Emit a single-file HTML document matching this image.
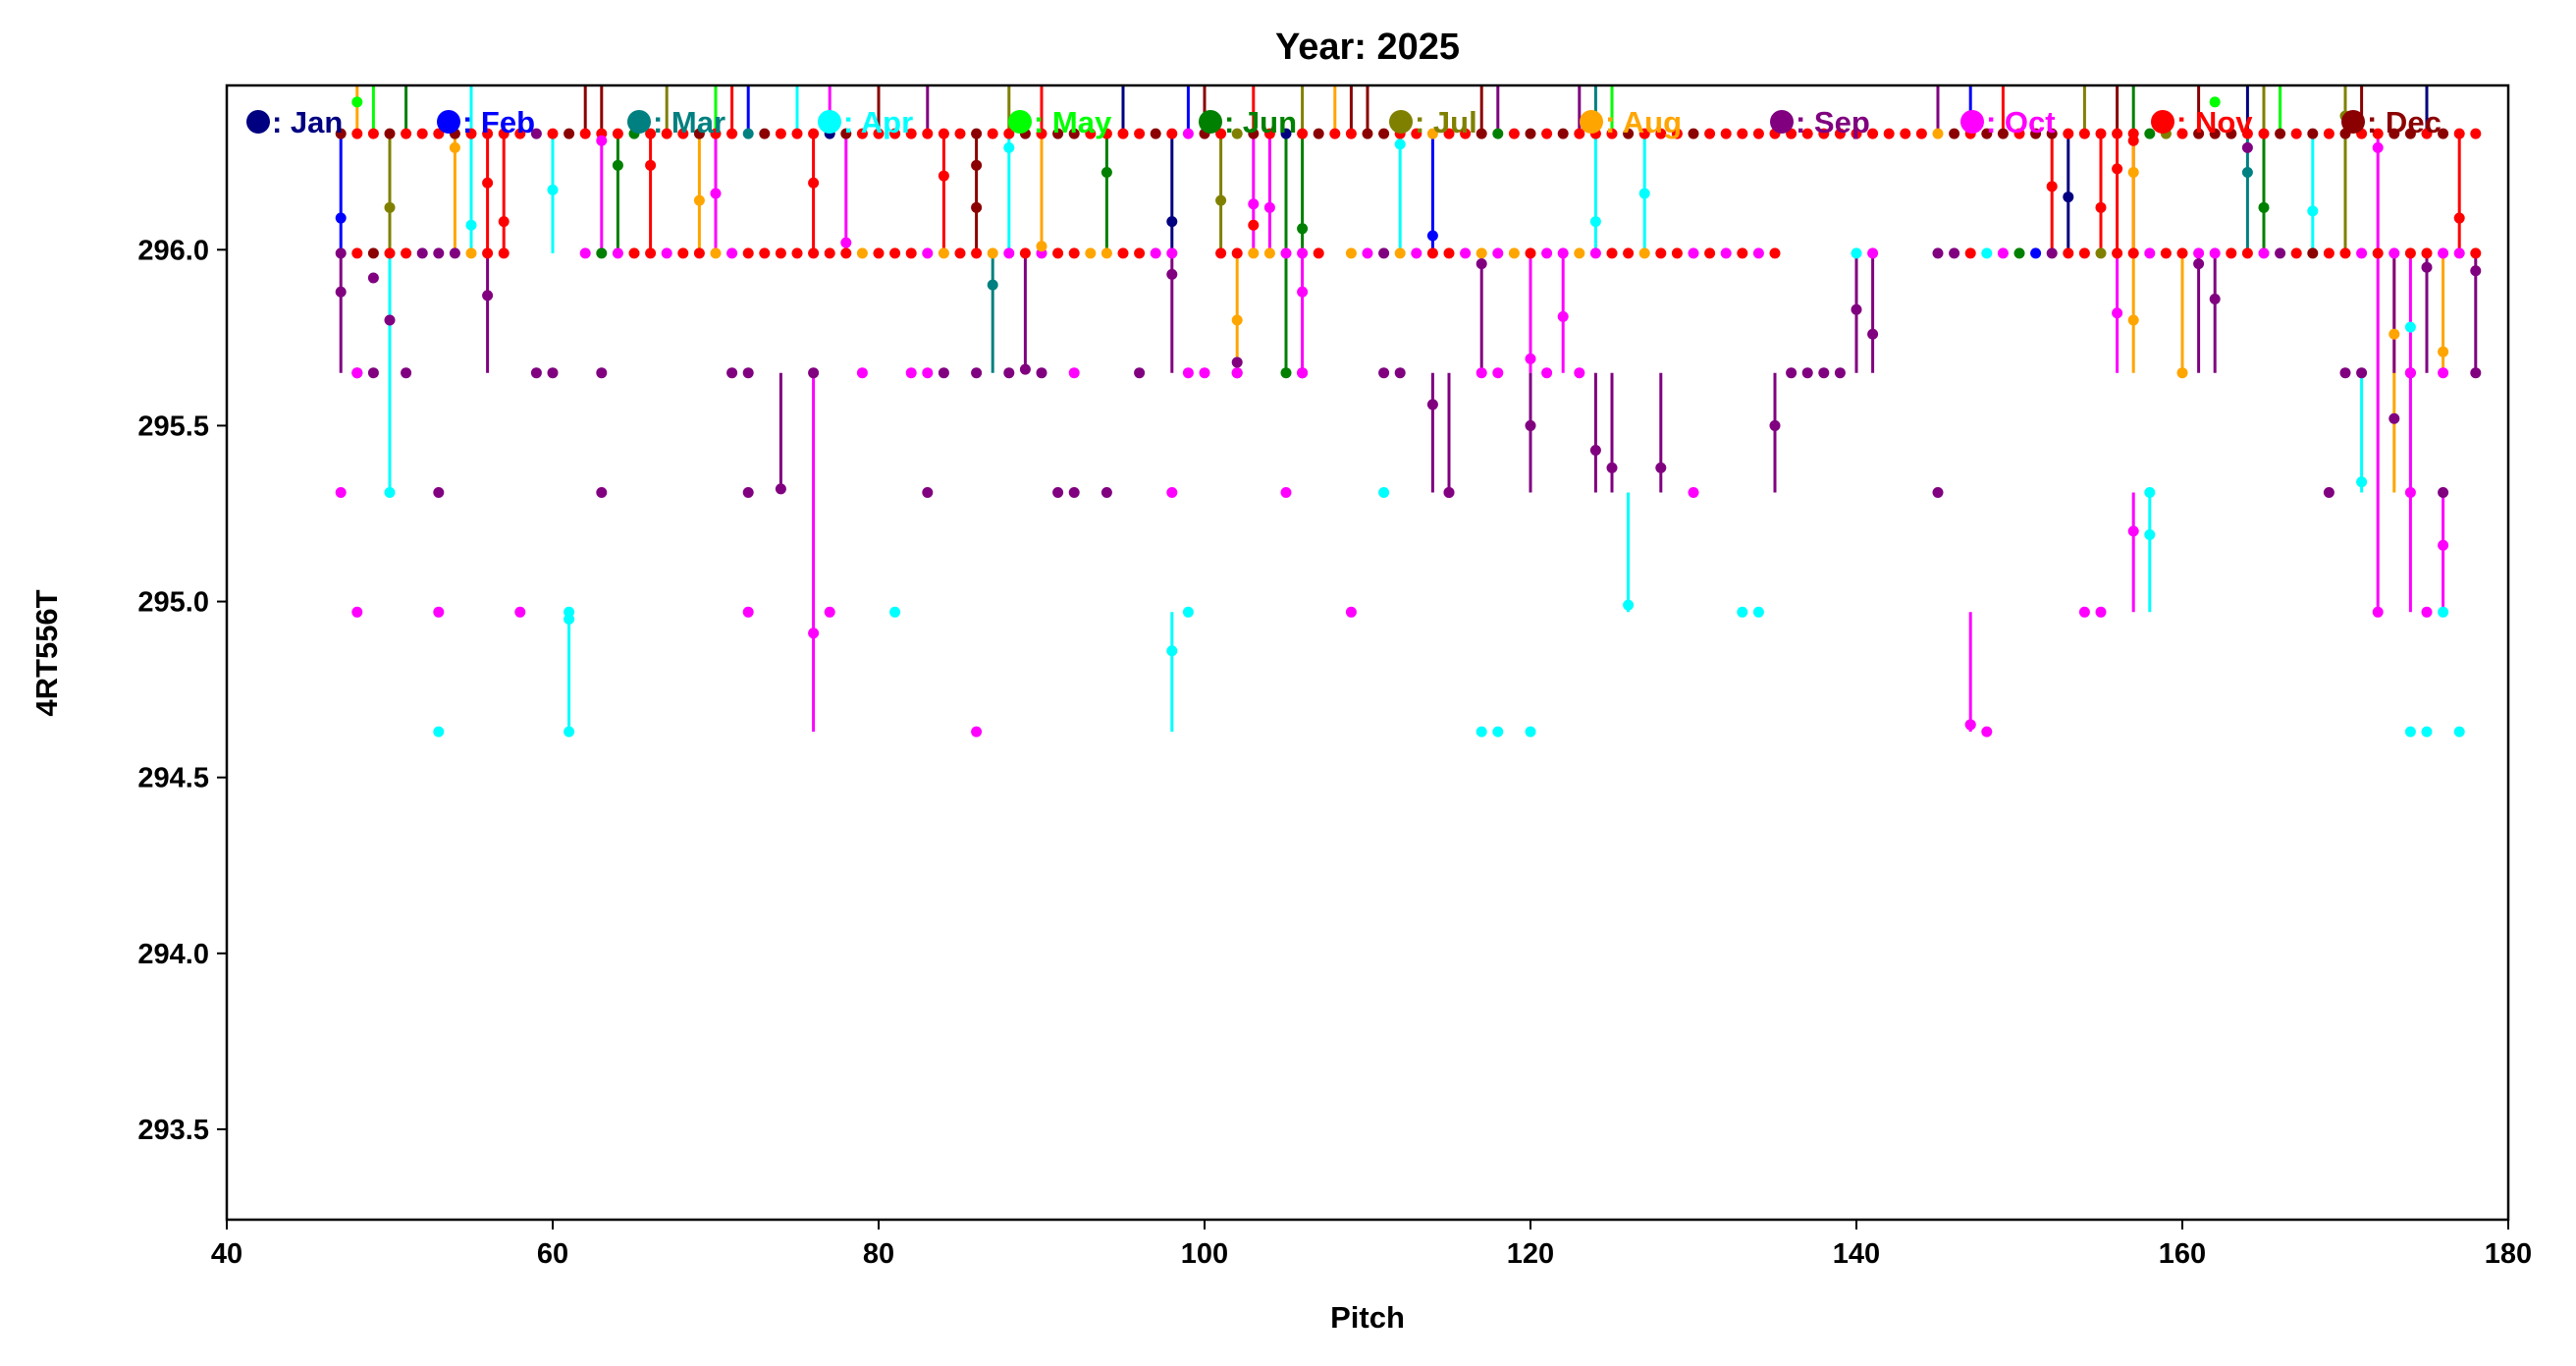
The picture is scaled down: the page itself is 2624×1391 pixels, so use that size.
<!DOCTYPE html>
<html><head><meta charset="utf-8"><style>
html,body{margin:0;padding:0;background:#fff;}
svg{display:block;font-family:"Liberation Sans","DejaVu Sans",sans-serif;font-weight:bold;}
</style></head><body>
<svg id="chart" width="2624" height="1391" viewBox="0 0 2624 1391" xmlns="http://www.w3.org/2000/svg">
<rect width="2624" height="1391" fill="#fff"/>
<text x="1393" y="60" text-anchor="middle" font-size="38">Year: 2025</text>
<text x="1393" y="1352" text-anchor="middle" font-size="31">Pitch</text>
<text transform="translate(58,665) rotate(-90)" text-anchor="middle" font-size="31">4RT556T</text>
<g id="plot"></g>
<g id="axes"></g>
<g id="legend"></g>
</svg>
<script>
const monthNames=["Jan","Feb","Mar","Apr","May","Jun","Jul","Aug","Sep","Oct","Nov","Dec"];
const monthColors=["#000080","#0000ff","#008080","#00ffff","#00ff00","#008000","#808000","#ffa500","#800080","#ff00ff","#ff0000","#8b0000"];
const xTicks=[40,60,80,100,120,140,160,180];
const yTicks=[293.5,294.0,294.5,295.0,295.5,296.0];
const yTickLabels=["293.5","294.0","294.5","295.0","295.5","296.0"];
// top row (296.33) month codes for pitch 47..178, '.' = none
const topRowStart=47;
const topRowEnd=178;
const topRow="lkklkkklkkkkiklkkkfkkklkkclkkkalkkkkkkklkklkllkkkklkjlkglkaklkkllkkhkklfklklkkklkkklkkkkkkkkkkkkkkhlkllkllkkkkkfgklllkklklklkkllklkkkklkl";
const topValue=296.33;
// mid row (295.99)
const midRowStart=47;
const midRowEnd=178;
const midRow="iklkkiiihkk....jfjkkjkkhjkkkkkkkhkkkjhkkhjkjkkhhkkjj..kkhhjjk.hjihjkkjhjhkjjhjkkhkkjkjkjk....dj...iikdjfbikkgkkjkkjjkkjiklkkjkjkkjjkki";
const midValue=295.99;
// other points: pitch, value, month index
const ptPitch=[48,49,51,59,60,63,71,72,76,84,86,88,90,96,102,106,111,112,136,137,138,139,170,171,174,178,
48,79,82,83,92,99,100,102,106,117,118,121,123,174,176,
50,53,63,72,83,91,92,94,145,169,47,98,105,115,130,111,74,
48,53,58,72,77,109,154,155,172,175,61,81,99,133,134,176,
53,61,117,118,120,174,175,177,86,147,148,
47,47,49,50,50,54,55,56,56,57,60,61,63,64,66,69,70,76,76,78,84,86,86,87,88,89,90,94,98,98,98,101,102,102,103,103,104,105,106,106,112,114,114,115,117,120,120,122,124,124,125,126,127,128,135,140,141,147,152,153,155,156,156,157,157,157,157,158,158,160,161,162,164,164,165,168,170,171,172,173,173,174,174,175,176,176,176,177,178,48,162];
const ptValue=[295.65,295.65,295.65,295.65,295.65,295.65,295.65,295.65,295.65,295.65,295.65,295.65,295.65,295.65,295.65,295.65,295.65,295.65,295.65,295.65,295.65,295.65,295.65,295.65,295.65,295.65,
295.65,295.65,295.65,295.65,295.65,295.65,295.65,295.65,295.65,295.65,295.65,295.65,295.65,295.65,295.65,
295.31,295.31,295.31,295.31,295.31,295.31,295.31,295.31,295.31,295.31,295.31,295.31,295.31,295.31,295.31,295.31,295.32,
294.97,294.97,294.97,294.97,294.97,294.97,294.97,294.97,294.97,294.97,294.97,294.97,294.97,294.97,294.97,294.97,
294.63,294.63,294.63,294.63,294.63,294.63,294.63,294.63,294.63,294.65,294.63,
296.09,295.88,295.92,296.12,295.80,296.29,296.07,296.19,295.87,296.08,296.17,294.95,296.31,296.24,296.24,296.14,296.16,294.91,296.19,296.02,296.21,296.24,296.12,295.90,296.29,295.66,296.01,296.22,296.08,295.93,294.86,296.14,295.80,295.68,296.13,296.07,296.12,295.65,296.06,295.88,296.30,296.04,295.56,295.31,295.96,295.69,295.50,295.81,296.08,295.43,295.38,294.99,296.16,295.38,295.50,295.83,295.76,294.65,296.18,296.15,296.12,296.23,295.82,296.31,296.22,295.80,295.20,295.31,295.19,295.65,295.96,295.86,296.22,296.29,296.12,296.11,296.38,295.34,296.29,295.76,295.52,295.78,295.31,295.95,295.71,295.16,295.31,296.09,295.94,296.42,296.42];
const ptMonth=[8,8,8,8,8,8,8,8,8,8,8,8,8,8,8,8,8,8,8,8,8,8,8,8,8,8,
9,9,9,9,9,9,9,9,9,9,9,9,9,9,9,
3,8,8,8,8,8,8,8,8,8,9,9,9,9,9,3,8,
9,9,9,9,9,9,9,9,9,9,3,3,3,3,3,3,
3,3,3,3,3,3,3,3,9,9,9,
1,8,8,6,8,7,3,10,8,10,3,3,9,5,10,7,9,9,10,9,10,11,11,2,3,8,7,5,0,8,3,6,7,8,9,10,9,5,5,9,3,1,8,8,8,9,8,9,3,8,8,3,3,8,8,8,8,9,10,0,10,10,9,10,7,7,9,3,3,7,8,8,2,8,5,3,6,3,9,7,8,3,9,8,7,9,8,10,8,4,4];
// stems: pitch, from, to, month
const stPitch=[47,47,50,50,50,54,55,56,56,57,60,61,63,64,66,69,70,74,76,76,78,84,86,87,88,89,90,94,98,98,98,101,102,103,104,105,106,106,112,114,114,115,117,120,120,122,124,124,125,126,127,128,135,140,141,147,152,153,155,156,156,157,157,157,158,160,161,162,164,165,168,170,171,172,173,173,174,174,175,176,176,177,178,
48,49,51,55,62,63,67,70,71,72,75,77,80,83,88,90,95,99,100,103,106,108,109,110,117,118,123,124,125,145,147,149,154,156,157,161,164,165,166,170,171,175];
const stFrom=[296.33,295.65,296.33,295.65,295.99,296.33,296.33,296.33,295.65,296.33,296.33,294.63,296.33,295.99,296.33,296.33,296.33,295.31,294.63,295.99,296.33,296.33,295.99,295.65,296.33,295.65,295.99,295.99,295.99,295.65,294.63,295.99,295.65,296.33,295.99,295.65,295.99,295.65,295.99,296.33,295.31,295.31,295.65,295.65,295.31,295.65,295.99,295.31,295.31,294.97,295.99,295.31,295.31,295.99,295.65,294.63,295.99,295.99,295.99,295.99,295.65,295.99,295.65,294.97,294.97,295.65,295.65,295.65,295.99,295.99,295.99,295.99,295.31,294.97,295.31,295.65,295.31,294.97,295.65,295.65,294.97,295.99,295.65,
296.33,296.33,296.33,296.33,296.33,296.33,296.33,296.33,296.33,296.33,296.33,296.33,296.33,296.33,296.33,296.33,296.33,296.33,296.33,296.33,296.33,296.33,296.33,296.33,296.33,296.33,296.33,296.33,296.33,296.33,296.33,296.33,296.33,296.33,296.33,296.33,296.33,296.33,296.33,296.33,296.33,296.33];
const stTo=[295.99,295.99,295.99,295.99,295.31,295.99,295.99,295.99,295.99,295.99,295.99,294.97,295.99,296.33,295.99,295.99,295.99,295.65,295.65,296.33,295.99,295.99,296.33,295.99,295.99,295.99,296.33,296.33,296.33,295.99,294.97,296.33,295.99,295.99,296.33,296.33,296.33,295.99,296.33,295.99,295.65,295.65,295.99,295.99,295.65,295.99,296.33,295.65,295.65,295.31,296.33,295.65,295.65,295.65,295.99,294.97,296.33,296.33,296.33,296.33,295.99,296.33,296.33,295.31,295.31,295.99,295.99,295.99,296.33,296.33,296.33,296.33,295.65,296.33,295.99,295.99,295.65,295.99,295.99,295.99,295.31,296.33,295.99,
296.47,296.47,296.47,296.47,296.47,296.47,296.47,296.47,296.47,296.47,296.47,296.47,296.47,296.47,296.47,296.47,296.47,296.47,296.47,296.47,296.47,296.47,296.47,296.47,296.47,296.47,296.47,296.47,296.47,296.47,296.47,296.47,296.47,296.47,296.47,296.47,296.47,296.47,296.47,296.47,296.47,296.47];
const stMonth=[1,8,6,8,3,7,3,10,8,10,3,3,9,5,10,7,9,8,9,10,9,10,11,2,3,8,7,5,0,8,3,6,7,9,9,5,5,9,3,1,8,8,8,9,8,9,3,8,8,3,3,8,8,8,8,9,10,0,10,10,9,10,7,9,3,7,8,8,2,5,3,6,3,9,7,8,3,9,8,7,9,10,8,
7,4,5,3,11,11,6,4,10,1,3,9,11,8,6,10,0,1,11,10,6,7,11,11,11,8,8,2,4,8,1,10,6,11,5,11,0,6,4,6,11,0];

const X0=231,X1=2555,Y0=87,Y1=1242;
const xMin=40,xMax=180,yMin=293.243,yMax=296.467;
const sx=v=>X0+(v-xMin)/(xMax-xMin)*(X1-X0);
const sy=v=>Y1-(v-yMin)/(yMax-yMin)*(Y1-Y0);
const NS="http://www.w3.org/2000/svg";
const plot=document.getElementById('plot'),axes=document.getElementById('axes'),legend=document.getElementById('legend');
function mk(tag,attrs,parent){const e=document.createElementNS(NS,tag);for(const k in attrs)e.setAttribute(k,attrs[k]);parent.appendChild(e);return e;}
const clip=mk('clipPath',{id:'pc'},document.getElementById('chart'));
mk('rect',{x:X0,y:Y0,width:X1-X0,height:Y1-Y0},clip);
plot.setAttribute('clip-path','url(#pc)');
for(let i=0;i<stPitch.length;i++){
  const l=mk('line',{x1:sx(stPitch[i]),x2:sx(stPitch[i]),y1:sy(stFrom[i]),y2:sy(stTo[i]),stroke:monthColors[stMonth[i]],'stroke-width':3},plot);
  
  
}
function dot(p,v,m){
  const c=mk('circle',{cx:sx(p),cy:sy(v),r:5.5,fill:monthColors[m]},plot);
  
  
}
for(let i=0;i<midRow.length && midRowStart+i<=midRowEnd;i++){const ch=midRow[i];if(ch!=='.')dot(midRowStart+i,midValue,ch.charCodeAt(0)-97);}
for(let i=0;i<topRow.length && topRowStart+i<=topRowEnd;i++){const ch=topRow[i];if(ch!=='.')dot(topRowStart+i,topValue,ch.charCodeAt(0)-97);}
for(let i=0;i<ptPitch.length;i++)dot(ptPitch[i],ptValue[i],ptMonth[i]);
const fr=mk('rect',{x:X0,y:Y0,width:X1-X0,height:Y1-Y0,fill:'none',stroke:'#000','stroke-width':2.5},axes);


xTicks.forEach(t=>{
  mk('line',{x1:sx(t),x2:sx(t),y1:Y1,y2:Y1+10,stroke:'#000','stroke-width':2},axes);
  const tx=mk('text',{x:sx(t),y:Y1+44,'text-anchor':'middle','font-size':29},axes);tx.textContent=t;
  
  
});
yTicks.forEach((t,i)=>{
  mk('line',{x1:X0-10,x2:X0,y1:sy(t),y2:sy(t),stroke:'#000','stroke-width':2},axes);
  const tx=mk('text',{x:X0-18,y:sy(t)+10,'text-anchor':'end','font-size':29},axes);tx.textContent=yTickLabels[i];
  
  
});
monthNames.forEach((n,i)=>{
  const g=mk('g',{},legend);
  
  
  const lx=263+i*194;
  mk('circle',{cx:lx,cy:124,r:12,fill:monthColors[i]},g);
  const t=mk('text',{x:lx+14,y:135,'font-size':31,fill:monthColors[i]},g);t.textContent=': '+n;
});
</script>
</body></html>
